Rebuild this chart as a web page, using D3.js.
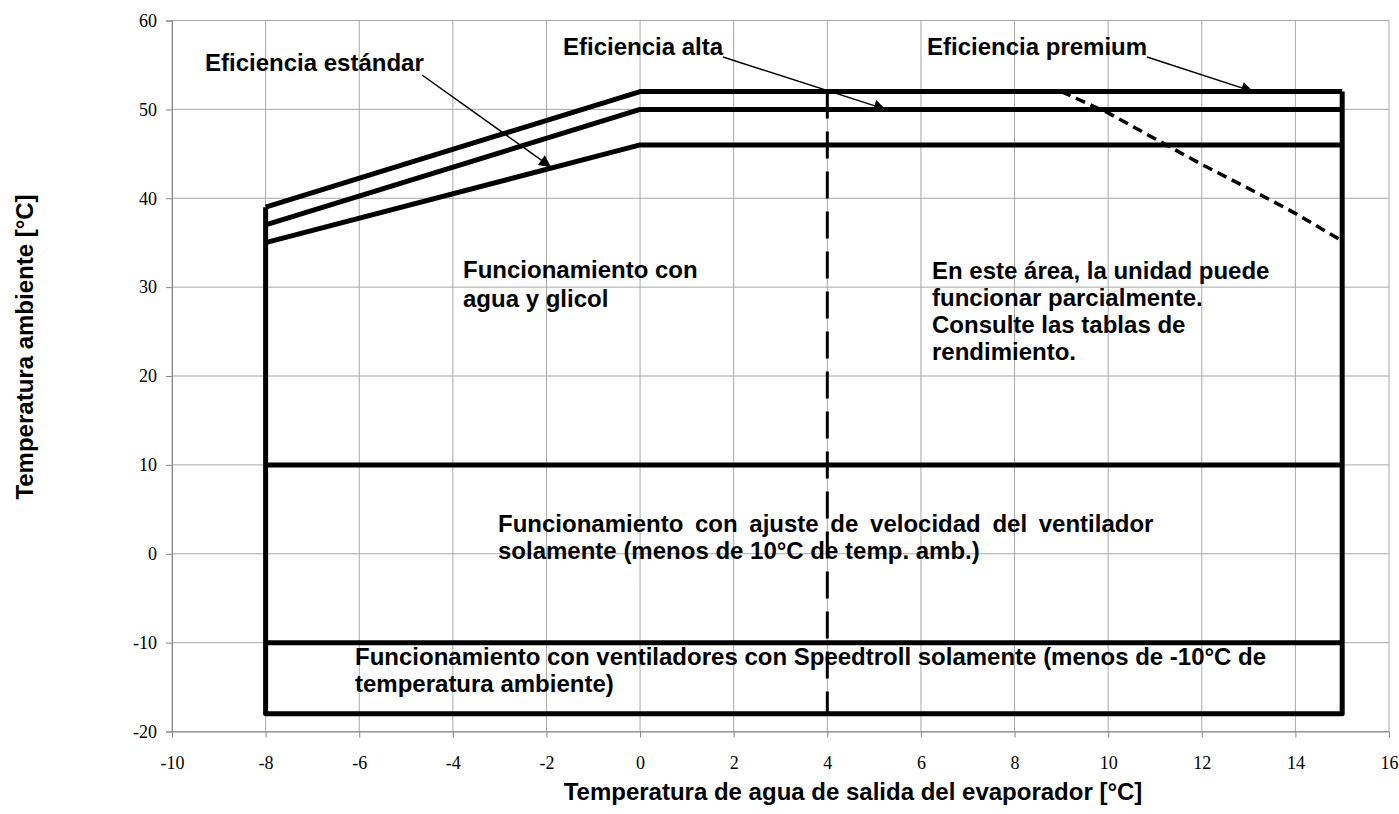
<!DOCTYPE html>
<html>
<head>
<meta charset="utf-8">
<script src="https://cdn.jsdelivr.net/npm/d3@7"></script>
<style>
  body { margin: 0; background: #fff; }
  .lbl { font-family: "Liberation Sans", Arial, sans-serif; font-weight: bold; font-size: 24px; fill: #000; }
  .tick text { font-family: "Liberation Serif", "Times New Roman", serif; font-size: 18px; fill: #000; }
</style>
</head>
<body>
<div id="chart"></div>
<script>
// axis ticks
const xTicks = [-10, -8, -6, -4, -2, 0, 2, 4, 6, 8, 10, 12, 14, 16];
const yTicks = [-20, -10, 0, 10, 20, 30, 40, 50, 60];

// operating envelope, [water outlet temp, ambient temp]
const standardLine = [[-8, 35], [0, 46], [15, 46]];
const highLine = [[-8, 37], [0, 50], [15, 50]];
const premiumLine = [[-8, 39], [0, 52], [15, 52]];
const outline = [[-8, 39], [-8, -18], [15, -18], [15, 52]];
const fanSpeedLine = [[-8, 10], [15, 10]];
const speedtrollLine = [[-8, -10], [15, -10]];
const partialLine = [[4, 52], [4, -18]];
const premiumLimit = [[9, 52], [10, 49.6], [11, 46.7], [12, 43.8], [13, 41.1], [14, 38.3], [15, 35.2]];

// arrow targets for the efficiency labels
const arrowLabels = ["Eficiencia estándar", "Eficiencia alta", "Eficiencia premium"];
const arrowTargets = [[-1.9, 43.5], [5.25, 50], [13.1, 52]];

const width = 1399;
const height = 814;
const margin = { top: 20.5, right: 10, bottom: 82.5, left: 172 };

const svg = d3.select("#chart")
    .append("svg")
    .attr("width", width)
    .attr("height", height);

const x = d3.scaleLinear()
    .domain([-10, 16])
    .range([margin.left, width - margin.right]);

const y = d3.scaleLinear()
    .domain([-20, 60])
    .range([height - margin.bottom, margin.top]);

// gridlines
svg.append("g")
    .selectAll("line")
    .data(xTicks)
    .enter()
    .append("line")
    .attr("x1", d => x(d)).attr("x2", d => x(d))
    .attr("y1", y(-20)).attr("y2", y(60))
    .attr("stroke", "#a8a8a8").attr("stroke-width", 1);

svg.append("g")
    .selectAll("line")
    .data(yTicks)
    .enter()
    .append("line")
    .attr("x1", x(-10)).attr("x2", x(16))
    .attr("y1", d => y(d)).attr("y2", d => y(d))
    .attr("stroke", "#a8a8a8").attr("stroke-width", 1);

// axes (plain hyphen for negatives, like the original)
const xAxis = svg.append("g")
    .attr("transform", `translate(0, ${y(-20)})`)
    .call(d3.axisBottom(x).tickValues(xTicks).tickFormat(d => String(d)).tickSize(6).tickPadding(19));
const yAxis = svg.append("g")
    .attr("transform", `translate(${x(-10)}, 0)`)
    .call(d3.axisLeft(y).tickValues(yTicks).tickFormat(d => String(d)).tickSize(6).tickPadding(9));
[xAxis, yAxis].forEach(a => {
    a.select(".domain").attr("stroke", "#868686");
    a.selectAll(".tick line").attr("stroke", "#868686");
});

const line = d3.line().x(d => x(d[0])).y(d => y(d[1]));

// envelope lines
[standardLine, highLine, premiumLine, outline, fanSpeedLine, speedtrollLine].forEach(pts => {
    svg.append("path")
        .attr("d", line(pts))
        .attr("fill", "none")
        .attr("stroke", "#000")
        .attr("stroke-width", 5)
        .attr("stroke-linejoin", "round");
});

svg.append("path")
    .attr("d", line(partialLine))
    .attr("fill", "none")
    .attr("stroke", "#000")
    .attr("stroke-width", 3)
    .attr("stroke-dasharray", "27,13");

svg.append("path")
    .attr("d", line(premiumLimit))
    .attr("fill", "none")
    .attr("stroke", "#000")
    .attr("stroke-width", 3.5)
    .attr("stroke-dasharray", "10,6");

// arrow annotations
svg.append("defs").append("marker")
    .attr("id", "head")
    .attr("viewBox", "0 0 10 10")
    .attr("refX", 10).attr("refY", 5)
    .attr("markerWidth", 17).attr("markerHeight", 12)
    .attr("markerUnits", "userSpaceOnUse")
    .attr("orient", "auto")
    .append("path")
    .attr("d", "M0,0L10,5L0,10Z")
    .attr("fill", "#000");

const labelPos = [[205, 71], [563, 55], [927, 55]];
const tailPos = [[422, 75], [723, 57], [1147, 57]];

arrowLabels.forEach((t, i) => {
    svg.append("text")
        .attr("class", "lbl")
        .attr("x", labelPos[i][0])
        .attr("y", labelPos[i][1])
        .text(t);
    svg.append("line")
        .attr("x1", tailPos[i][0]).attr("y1", tailPos[i][1])
        .attr("x2", x(arrowTargets[i][0])).attr("y2", y(arrowTargets[i][1]))
        .attr("stroke", "#000").attr("stroke-width", 1.5)
        .attr("marker-end", "url(#head)");
});

// region texts
function block(lines, x0, y0, dy) {
    const t = svg.append("text").attr("class", "lbl");
    lines.forEach((s, i) => {
        t.append("tspan").attr("x", x0).attr("y", y0 + i * dy).text(s);
    });
    return t;
}

block(["Funcionamiento con", "agua y glicol"], 463, 278, 29);
block(["En este área, la unidad puede", "funcionar parcialmente.", "Consulte las tablas de", "rendimiento."], 932, 279, 27);
const fan = block(["Funcionamiento con ajuste de velocidad del ventilador", "solamente (menos de 10°C de temp. amb.)"], 498, 532, 27);
block(["Funcionamiento con ventiladores con Speedtroll solamente (menos de -10°C de", "temperatura ambiente)"], 355, 665, 27);

// first line of the fan-speed text is justified (wider word gaps)
fan.select("tspan").attr("word-spacing", 5);

// axis titles
svg.append("text")
    .attr("class", "lbl")
    .attr("x", 853)
    .attr("y", 800)
    .attr("text-anchor", "middle")
    .text("Temperatura de agua de salida del evaporador [°C]");

svg.append("text")
    .attr("class", "lbl")
    .attr("transform", "translate(33, 347) rotate(-90)")
    .attr("text-anchor", "middle")
    .text("Temperatura ambiente [°C]");
</script>
</body>
</html>
